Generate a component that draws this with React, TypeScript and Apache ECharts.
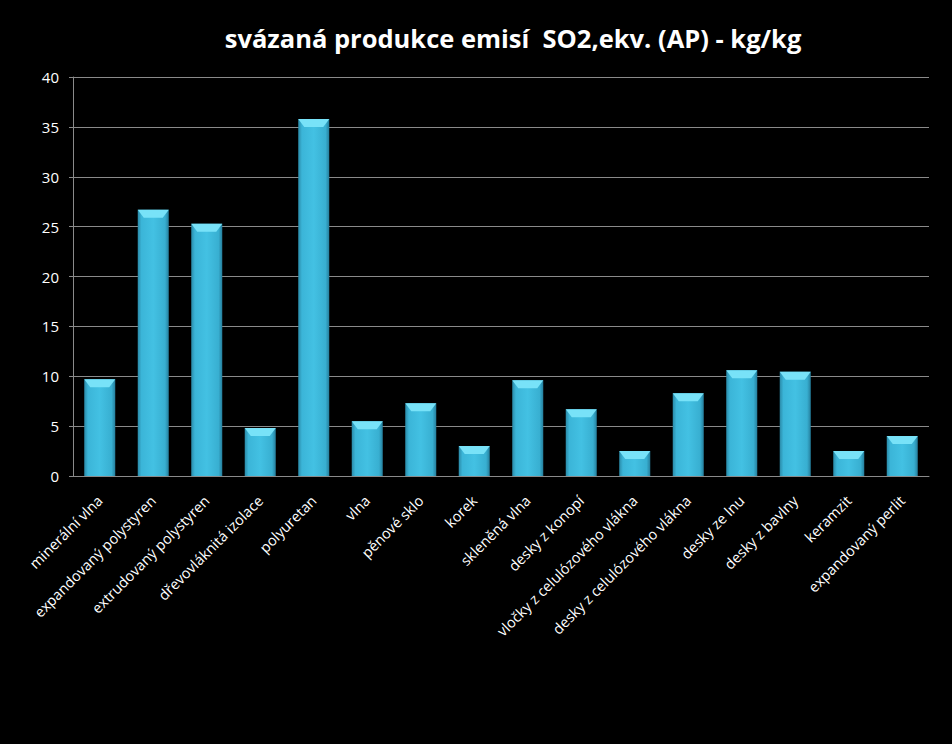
import React, { useEffect, useRef } from "react";
import * as echarts from "echarts";

const categories = [
  "minerální vlna",
  "expandovaný polystyren",
  "extrudovaný polystyren",
  "dřevovláknitá izolace",
  "polyuretan",
  "vlna",
  "pěnové sklo",
  "korek",
  "skleněná vlna",
  "desky z konopí",
  "vločky z celulózového vlákna",
  "desky z celulózového vlákna",
  "desky ze lnu",
  "desky z bavlny",
  "keramzit",
  "expandovaný perlit",
];

const values = [9.7, 26.7, 25.3, 4.8, 35.8, 5.5, 7.3, 3.0, 9.6, 6.7, 2.5, 8.3, 10.6, 10.45, 2.5, 4.0];

const titleText = "svázaná produkce emisí  SO2,ekv. (AP) - kg/kg";

const BAR_RATIO = 0.58;

export default function App() {
  const ref = useRef<HTMLDivElement>(null);
  useEffect(() => {
    if (!ref.current) return;
    const chart = echarts.init(ref.current, undefined, { renderer: "svg" });
    chart.setOption({
      animation: false,
      backgroundColor: "#000000",
      title: {
        text: titleText,
        left: 508,
        top: 20,
        textAlign: "center",
        textStyle: { color: "#ffffff", fontSize: 25.5, fontWeight: "bold", fontFamily: "Open Sans" },
      },
      grid: { left: 73, right: 23, top: 77, bottom: 268, containLabel: false },
      xAxis: {
        type: "category",
        data: categories,
        axisLine: { lineStyle: { color: "#8a8a8a", width: 1 } },
        axisTick: { show: false },
        axisLabel: {
          interval: 0,
          rotate: 45,
          color: "#ffffff",
          fontSize: 14.5,
          fontFamily: "Open Sans",
          margin: 22,
        },
      },
      yAxis: {
        type: "value",
        min: 0,
        max: 40,
        interval: 5,
        axisLine: { show: true, lineStyle: { color: "#8a8a8a", width: 1 } },
        axisTick: { show: true, length: 4, lineStyle: { color: "#8a8a8a" } },
        axisLabel: { color: "#ffffff", fontSize: 15, fontFamily: "Open Sans", margin: 14 },
        splitLine: { lineStyle: { color: "#8a8a8a", width: 1 } },
      },
      series: [
        {
          type: "bar",
          data: values,
          barWidth: `${BAR_RATIO * 100}%`,
          itemStyle: {
            color: new echarts.graphic.LinearGradient(0, 0, 1, 0, [
              { offset: 0, color: "#2a8aa8" },
              { offset: 0.12, color: "#3bb5d8" },
              { offset: 0.5, color: "#43c1e3" },
              { offset: 0.88, color: "#38afd1" },
              { offset: 1, color: "#257e9c" },
            ]),
          },
        },
        {
          type: "custom",
          data: values.map((v, i) => [i, v]),
          renderItem: (params: any, api: any) => {
            const i = api.value(0);
            const v = api.value(1);
            const p = api.coord([i, v]);
            const w = api.size([1, 0])[0] * BAR_RATIO;
            const l = p[0] - w / 2;
            const r = p[0] + w / 2;
            const t = p[1];
            const inset = 6;
            const h = 8;
            return {
              type: "polygon",
              shape: {
                points: [
                  [l, t],
                  [r, t],
                  [r - inset, t + h],
                  [l + inset, t + h],
                ],
              },
              style: { fill: "#78e2f8" },
            };
          },
          z: 3,
        },
      ],
    });
    return () => chart.dispose();
  }, []);
  return <div ref={ref} style={{ width: 952, height: 744, position: "fixed", left: 0, top: 0 }} />;
}
